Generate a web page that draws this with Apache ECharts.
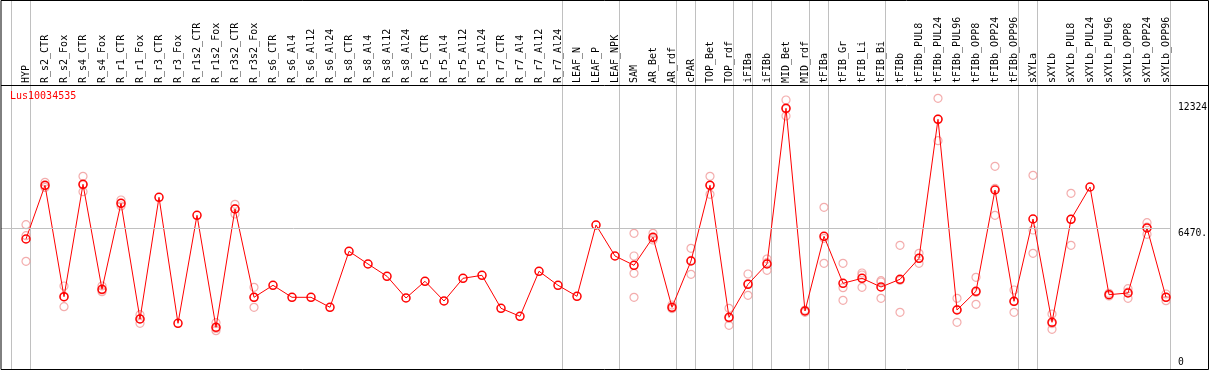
<!DOCTYPE html>
<html>
<head>
<meta charset="utf-8">
<script src="https://cdn.jsdelivr.net/npm/echarts@6/dist/echarts.min.js"></script>
<style>
html,body{margin:0;padding:0;background:#fff;}
#chart{width:1209px;height:370px;}
</style>
</head>
<body>
<div id="chart"></div>
<script>
// ---- data ----
const categories = [
  'HYP','R_s2_CTR','R_s2_Fox','R_s4_CTR','R_s4_Fox','R_r1_CTR','R_r1_Fox','R_r3_CTR','R_r3_Fox',
  'R_r1s2_CTR','R_r1s2_Fox','R_r3s2_CTR','R_r3s2_Fox','R_s6_CTR','R_s6_Al4','R_s6_Al12','R_s6_Al24',
  'R_s8_CTR','R_s8_Al4','R_s8_Al12','R_s8_Al24','R_r5_CTR','R_r5_Al4','R_r5_Al12','R_r5_Al24',
  'R_r7_CTR','R_r7_Al4','R_r7_Al12','R_r7_Al24','LEAF_N','LEAF_P','LEAF_NPK','SAM','AR_Bet','AR_rdf',
  'cPAR','TOP_Bet','TOP_rdf','iFIBa','iFIBb','MID_Bet','MID_rdf','tFIBa','tFIB_Gr','tFIB_Li','tFIB_Bi',
  'tFIBb','tFIBb_PUL8','tFIBb_PUL24','tFIBb_PUL96','tFIBb_OPP8','tFIBb_OPP24','tFIBb_OPP96','sXYLa',
  'sXYLb','sXYLb_PUL8','sXYLb_PUL24','sXYLb_PUL96','sXYLb_OPP8','sXYLb_OPP24','sXYLb_OPP96'
];
const meanValues = [
  5975, 8470, 3294, 8516, 3638, 7633, 2258, 7912, 2058, 7076, 1872, 7369, 3266, 3824, 3266, 3266,
  2802, 5403, 4813, 4242, 3234, 4010, 3094, 4149, 4288, 2755, 2383, 4474, 3824, 3313, 6625, 5185,
  4753, 6054, 2802, 4953, 8470, 2337, 3870, 4813, 12047, 2630, 6100, 3917, 4149, 3745, 4102, 5078,
  11536, 2676, 3545, 8251, 3080, 6904, 2105, 6890, 8391, 3387, 3466, 6486, 3266
];
const replicateValues = [
  [6639,6128,4939],[8609,8437,8367],[3791,3280,2829],[8888,8484,8172],[3791,3605,3526],
  [7787,7633,7508],[2458,2258,2058],[],[],[],[2086,1817,1714],[7587,7383,7136],[3731,3266,2802],
  [],[],[],[],[],[],[],[],[],[],[],[],[],[],[],[],[],[],[],
  [6240,5185,4381,3266],[6240,6007,5928],[2908,2755,2741],[5543,4981,4335],[8888,8470,8052],
  [2755,2290,1965],[4349,3903,3359],[5046,4874,4521],[12433,12015,11689],[2676,2630,2569],
  [7448,6007,4846],[4846,3712,3127],[4395,4302,3731],[4037,3977,3220],[5682,4056,2569],
  [5310,5078,4846],[12512,11550,10542],[3220,2704,2105],[4195,3498,2941],[9352,8326,7076],
  [3605,3066,2569],[8934,6393,5310],[2490,2044,1779],[8098,6890,5682],[],[3452,3327],
  [3666,3512,3220],[6732,6532,6193],[3419,3266,3108]
];
const separatorAfter = [-1, 0, 28, 31, 34, 35, 37, 38, 39, 41, 42, 45, 52, 53, 60];
const yTickValues = [0, 6470, 12324];
const yTickLabels = ['0', '6470.', '12324'];
const yGridValues = [6470];
const title = 'Lus10034535';

// ---- layout ----
const W = 1209, H = 370;
const FIRST_X = 26, STEP_X = 19, PLOT_LEFT = 1, PLOT_RIGHT = 1171;
const Y_ZERO = 367.6, Y_SCALE = 0.021524; // px per unit
const HEADER_Y = 85;
const xMin = -(FIRST_X - PLOT_LEFT) / STEP_X;
const xMax = (PLOT_RIGHT - FIRST_X) / STEP_X;
const yMin = -(H - Y_ZERO) / Y_SCALE;
const yMax = Y_ZERO / Y_SCALE;
const FONT = 'DejaVu Sans Mono';
const GRID_GRAY = '#c0c0c0';

const repData = [];
replicateValues.forEach((arr, i) => arr.forEach(v => repData.push([i, v])));

const yLines = yTickValues.map((v, k) => ({
  yAxis: v,
  lineStyle: { color: yGridValues.includes(v) ? GRID_GRAY : 'rgba(0,0,0,0)', width: 1, type: 'solid' },
  label: {
    show: true, position: 'end', distance: 7, formatter: yTickLabels[k],
    color: '#000', fontSize: 9.7, fontFamily: FONT,
    verticalAlign: v === 0 ? 'bottom' : 'top'
  }
}));

const borderGraphics = [
  { type: 'rect', z: 100, shape: { x: 1, y: 0.5, width: 1207.5, height: 369 },
    style: { fill: 'none', stroke: '#000', lineWidth: 1 } },
  { type: 'line', z: 100, shape: { x1: 1, y1: HEADER_Y + 0.5, x2: 1208.5, y2: HEADER_Y + 0.5 },
    style: { stroke: '#000', lineWidth: 1 } }
];

const chart = echarts.init(document.getElementById('chart'), null, { renderer: 'canvas' });
chart.setOption({
  animation: false,
  backgroundColor: '#fff',
  title: {
    text: title, left: 10, top: 91, padding: 0,
    textStyle: { color: '#ff0000', fontSize: 10, fontFamily: FONT, fontWeight: 'normal' }
  },
  grid: [
    { left: PLOT_LEFT, right: W - PLOT_RIGHT, top: 0, bottom: 0 },
    { left: PLOT_LEFT, right: W - PLOT_RIGHT, top: HEADER_Y, bottom: 0 }
  ],
  xAxis: [
    { type: 'value', gridIndex: 0, min: xMin, max: xMax, show: false },
    {
      type: 'value', gridIndex: 1, min: xMin, max: xMax, position: 'top',
      axisLine: { show: false }, axisTick: { show: false }, splitLine: { show: false },
      axisLabel: {
        customValues: categories.map((c, i) => i),
        formatter: v => categories[Math.round(v)] || '',
        rotate: 90, margin: 2, color: '#000', fontSize: 10, fontFamily: FONT
      }
    }
  ],
  yAxis: [
    { type: 'value', gridIndex: 0, min: yMin, max: yMax, show: false },
    { type: 'value', gridIndex: 1, min: 0, max: 1, show: false }
  ],
  graphic: borderGraphics,
  series: [
    {
      type: 'line', xAxisIndex: 0, yAxisIndex: 0, z: 1, silent: true,
      data: meanValues.map((v, i) => [i, v]), showSymbol: false,
      lineStyle: { color: 'rgba(0,0,0,0)', width: 0 },
      markLine: { silent: true, symbol: ['none', 'none'], animation: false, data: yLines }
    },
    {
      type: 'scatter', xAxisIndex: 0, yAxisIndex: 0, z: 2, silent: true,
      data: repData, symbol: 'circle', symbolSize: 8,
      itemStyle: { color: 'rgba(0,0,0,0)', borderColor: '#f09898', borderWidth: 1.2 }
    },
    {
      type: 'line', xAxisIndex: 0, yAxisIndex: 0, z: 3, silent: true,
      data: meanValues.map((v, i) => [i, v]),
      symbol: 'circle', symbolSize: 8, showAllSymbol: true,
      lineStyle: { color: '#ff0000', width: 1 },
      itemStyle: { color: 'rgba(0,0,0,0)', borderColor: '#ff0000', borderWidth: 1.5 }
    }
  ]
});

// vertical group separators, positioned through the chart's own x scale
const sepGraphics = separatorAfter.map(i => {
  const x = Math.round(chart.convertToPixel({ xAxisIndex: 0 }, i + 0.22)) + 0.5;
  return { type: 'line', z: 0, silent: true, shape: { x1: x, y1: 0, x2: x, y2: H },
           style: { stroke: GRID_GRAY, lineWidth: 1 } };
});
chart.setOption({ graphic: borderGraphics.concat(sepGraphics) });
</script>
</body>
</html>
